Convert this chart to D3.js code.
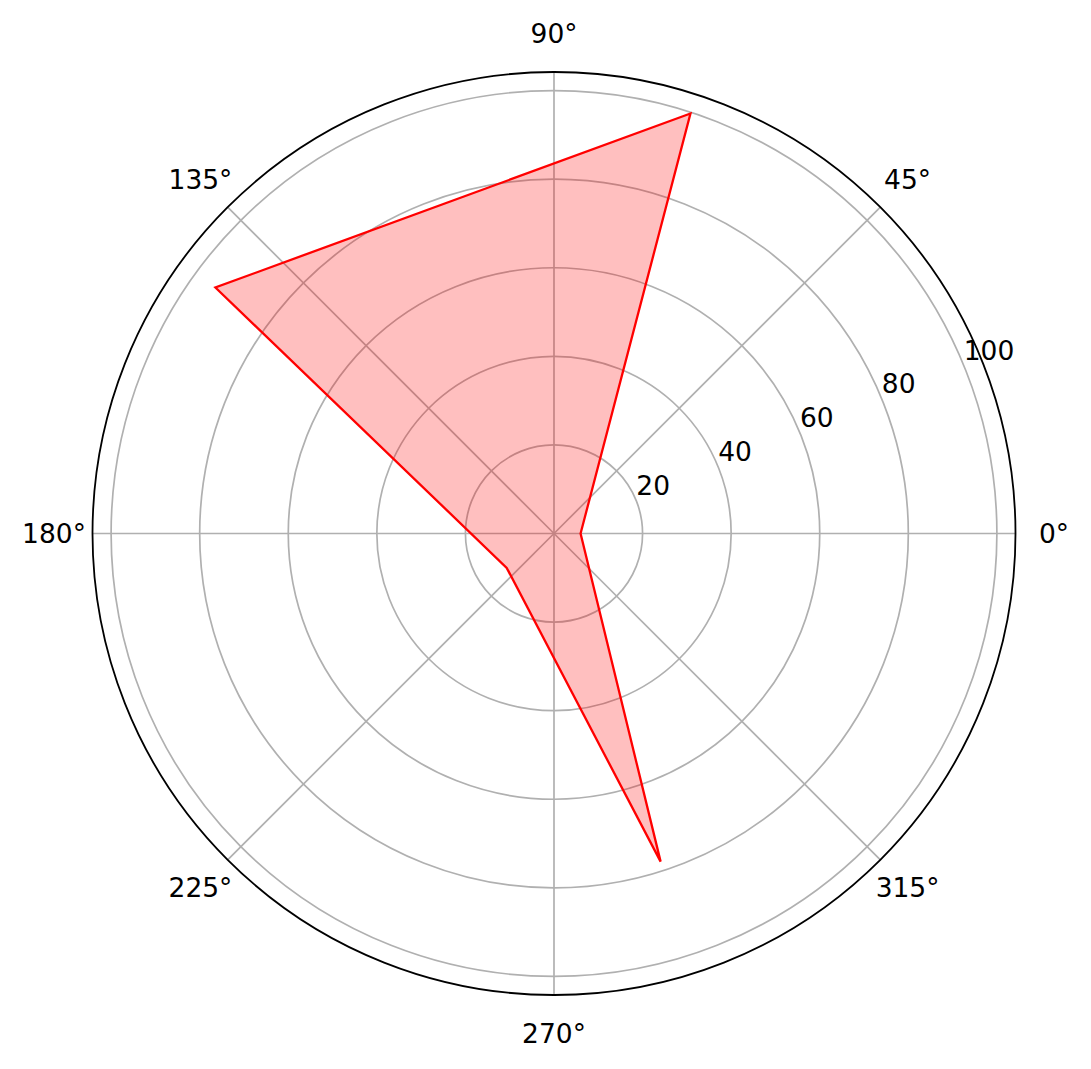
<!DOCTYPE html>
<html lang="en">
<head>
    <meta charset="utf-8">
    <title>Polar chart</title>
    <script type="text/javascript" src="https://d3js.org/d3.v7.min.js"></script>
    <style>
        body { margin: 0; background: #fff; }
        text { font-family: "DejaVu Sans", sans-serif; fill: #000; }
    </style>
</head>
<body>
    <div id="viz"></div>

    <script type="text/javascript">
        // data (angle in degrees, radius value)
        const angles = [0, 72, 144, 216, 288];
        const values = [6, 99.7, 94.5, 13.2, 77.9];
        const rTicks = [20, 40, 60, 80, 100];
        const thetaTicks = [0, 45, 90, 135, 180, 225, 270, 315];

        const width = 1091;
        const height = 1069;
        const cx = 554, cy = 533.5;
        const outerR = 461.5;
        const rMax = 104.2;

        const svg = d3.select("#viz")
            .append("svg")
            .attr("width", width)
            .attr("height", height);

        const g = svg.append("g")
            .attr("transform", `translate(${cx},${cy})`);

        const rScale = d3.scaleLinear()
            .domain([0, rMax])
            .range([0, outerR]);

        // matplotlib angles go counter-clockwise from east, d3 from north clockwise
        const toRad = deg => (90 - deg) * Math.PI / 180;

        // grid circles
        g.append("g")
            .selectAll("circle")
            .data(rTicks)
            .enter()
            .append("circle")
                .attr("r", d => rScale(d))
                .attr("fill", "none")
                .attr("stroke", "#b0b0b0")
                .attr("stroke-width", 1.7);

        // spokes
        g.append("g")
            .selectAll("line")
            .data(thetaTicks)
            .enter()
            .append("line")
                .attr("x1", 0)
                .attr("y1", 0)
                .attr("x2", d => outerR * Math.sin(toRad(d)))
                .attr("y2", d => -outerR * Math.cos(toRad(d)))
                .attr("stroke", "#b0b0b0")
                .attr("stroke-width", 1.7);

        const points = angles.map((a, i) => [a, values[i]]);

        const radial = d3.lineRadial()
            .angle(d => toRad(d[0]))
            .radius(d => rScale(d[1]))
            .curve(d3.curveLinearClosed);

        g.append("path")
            .attr("d", radial(points))
            .attr("fill", "red")
            .attr("fill-opacity", 0.25)
            .attr("stroke", "none");

        g.append("path")
            .attr("d", radial(points))
            .attr("fill", "none")
            .attr("stroke", "red")
            .attr("stroke-width", 2.3)
            .attr("stroke-linejoin", "miter");

        // outer frame
        g.append("circle")
            .attr("r", outerR)
            .attr("fill", "none")
            .attr("stroke", "#000")
            .attr("stroke-width", 1.8);

        // theta labels
        const labelR = 500;
        g.append("g")
            .selectAll("text")
            .data(thetaTicks)
            .enter()
            .append("text")
                .attr("x", d => labelR * Math.sin(toRad(d)))
                .attr("y", d => -labelR * Math.cos(toRad(d)))
                .attr("text-anchor", "middle")
                .attr("dominant-baseline", "central")
                .attr("font-size", 26.5)
                .text(d => d + "°");

        // radial labels along 22.5 deg
        const rLabelAngle = toRad(22.5);
        g.append("g")
            .selectAll("text")
            .data(rTicks)
            .enter()
            .append("text")
                .attr("x", d => rScale(d) * Math.sin(rLabelAngle) + 0.5)
                .attr("y", d => -rScale(d) * Math.cos(rLabelAngle) - 4.5)
                .attr("text-anchor", "start")
                .attr("font-size", 26.5)
                .text(d => d);
    </script>
</body>
</html>
